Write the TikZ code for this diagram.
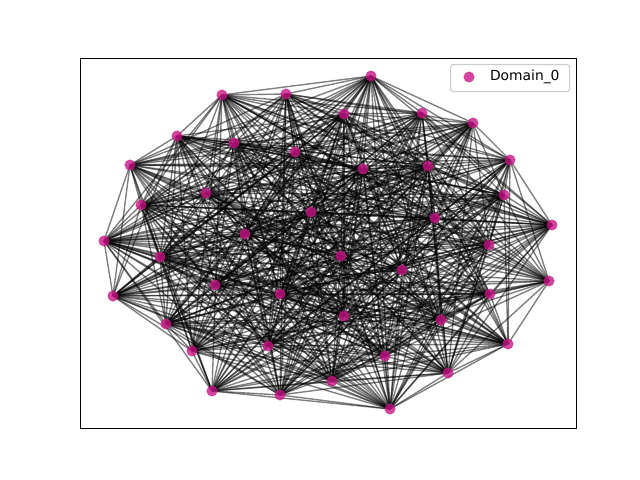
\documentclass[tikz,border=0pt]{standalone}
\usepackage{fontspec}
\setmainfont{DejaVu Sans}
\usetikzlibrary{positioning}

\definecolor{mvred}{RGB}{199,21,133}
\definecolor{legendgray}{RGB}{204,204,204}

\tikzset{
    vertex/.style={circle, fill=mvred, fill opacity=0.8, inner sep=0pt, minimum size=0.11in},
    edge/.style={black, opacity=0.5, line width=1pt},
    frame/.style={draw=black, line width=0.8pt}
}

\begin{document}
\begin{tikzpicture}[x=0.01in, y=-0.01in]
    \useasboundingbox (0, 0) rectangle (640, 480);

    % node positions
    \foreach \x/\y [count=\k] in {371/76, 222/95, 286/94, 344/114, 422/113, 473/123,
        177/136, 234/143, 295/152, 363/169, 428/166, 510/160, 130/165, 206/193,
        141/205, 311/212, 504/195, 435/218, 552/225, 245/234, 104/241, 489/245,
        160/257, 341/256, 402/270, 549/281, 215/285, 280/294, 490/294, 113/296,
        344/316, 441/320, 166/324, 268/346, 508/344, 192/351, 385/356, 448/373,
        332/381, 212/391, 280/395, 390/409}
        \coordinate (p\k) at (\x, \y);

    % edges
    \pgfmathsetseed{4242}
    \foreach \i in {1,...,41} {
        \pgfmathtruncatemacro\first{\i + 1}
        \foreach \j in {\first,...,42} {
            \pgfmathtruncatemacro\keep{rnd < 0.75}
            \ifnum\keep=1
                \draw[edge] (p\i) -- (p\j);
            \fi
        }
    }

    % vertices
    \foreach \k in {1,...,42}
        \node[vertex] (n\k) at (p\k) {};

    % axes
    \node[frame, minimum width=4.96in, minimum height=3.70in, inner sep=0pt, anchor=north west] (axes) at (80, 58) {};

    % legend
    \node[draw=legendgray, fill=white, fill opacity=0.8, rounded corners=2pt, line width=0.8pt,
        minimum width=1.19in, minimum height=0.27in, anchor=north west] (legend) at (450, 64) {};
    \node[vertex] (lmark) at (469, 77) {};
    \node[right=0.15in of lmark, inner sep=0pt, font=\fontsize{10}{12}\selectfont] (ltext) {Domain\_0};
\end{tikzpicture}
\end{document}
